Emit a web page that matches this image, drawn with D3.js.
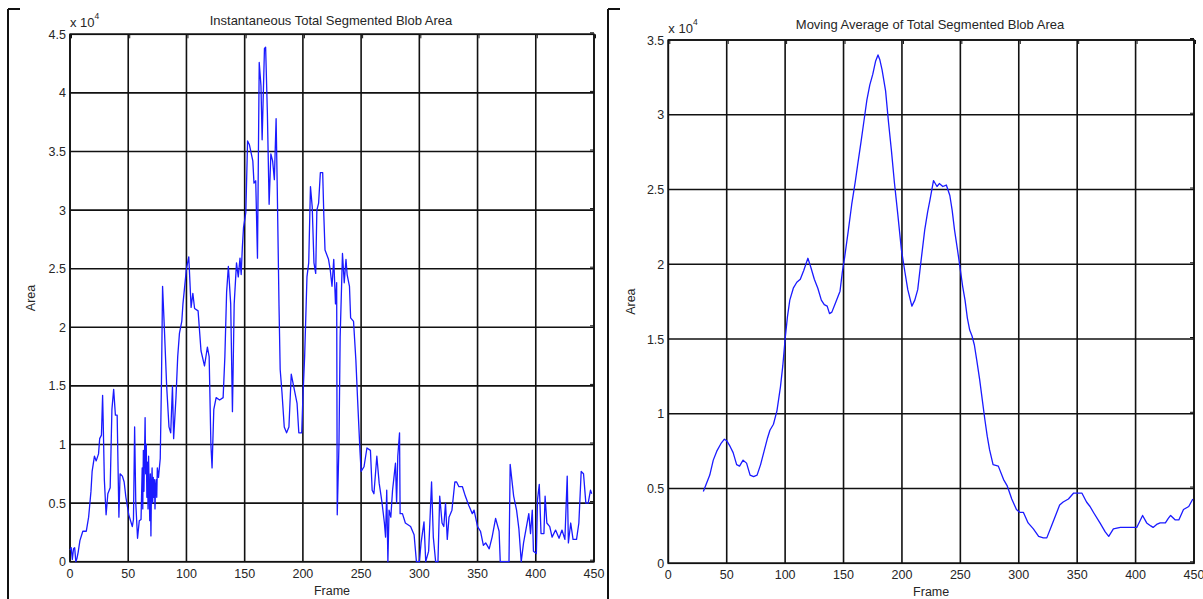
<!DOCTYPE html>
<html>
<head>
<meta charset="utf-8">
<script src="https://cdn.jsdelivr.net/npm/d3@7"></script>
<style>
  body { margin: 0; background: #fff; }
  text { font-family: "Liberation Sans", Arial, sans-serif; fill: #262626; }
</style>
</head>
<body>
<script>
// instantaneous blob area (units of 10^4)
let instFrames = [0, 1, 2, 3, 4, 5, 6, 7, 8.5, 11, 14, 16, 18, 19, 21, 22.5, 24.5, 25.5, 27, 28,
  28.5, 29.5, 31, 32.5, 34.5, 36, 37.5, 39, 40.5, 42, 43, 45, 46.5, 48, 50.5, 53.5, 54.5, 55.5, 56.5, 58,
  59.5, 61, 62, 62.5, 63, 63.5, 64.5, 65, 65.5, 66, 66.5, 67, 67.5, 68, 68.5, 69, 69.5, 70, 70.5, 71,
  71.5, 72, 72.5, 73, 73.5, 74, 74.5, 75, 76, 77.5,
  78.5, 79.5, 81, 83, 85, 86.5, 88, 89, 91, 92.5, 94, 96, 97, 99, 100, 102, 104, 105.5, 107, 110,
  112.5, 115.5, 118, 119.5, 121, 122, 123.5, 125.5, 128.5, 131.5, 133, 134.5, 136, 138, 139.5, 141, 143, 144.5, 146, 147,
  148, 149, 151, 152.5, 154, 157, 158, 159.5, 161, 162.5, 164, 165, 167, 168, 169.5, 171, 172.5, 174, 175.5, 177,
  178, 179.5, 180.5, 182, 184, 186, 188, 190, 192, 195, 196.5, 199, 200, 201.5, 203.5, 205, 206.5, 208, 209.5, 211,
  212, 213.5, 215, 217, 218, 219, 222, 223.5, 225, 226.5, 228, 229, 229.5, 231, 232, 234, 235.5, 237, 238, 240,
  241, 243.5, 245.5, 247, 249, 250, 252.5, 255, 258, 259.5, 261, 263.5, 265.5, 267, 268, 270, 271, 272, 273, 274,
  275.5, 277, 278, 279.5, 280.5, 281.5, 283, 283.5, 285.5, 288, 292.5, 295.5, 297.5, 300, 301.5, 304, 305.5, 308, 310.5, 312,
  314, 316, 317.5, 319.5, 321, 322.5, 324, 325.5, 328, 330.5, 332, 334, 337, 339.5, 342.5, 345.5, 347, 350, 352.5, 355,
  357, 360, 362.5, 365.5, 368.5, 369.5, 377, 378, 381, 383.5, 385.5, 387.5, 389.5, 392, 394, 395.5, 397, 398, 400.5, 401.5,
  403, 404.5, 407, 408, 409.5, 412, 414, 417, 420, 422.5, 425, 427, 428, 430, 432, 435, 437, 439, 441, 443,
  445, 447, 448];
let instArea = [0.10, 0.12, 0.02, 0.11, 0.12, 0.00, 0.03, 0.08, 0.18, 0.26, 0.26, 0.38, 0.60, 0.77, 0.90, 0.86, 0.92, 1.05, 1.08, 1.42,
  1.20, 0.70, 0.40, 0.58, 0.63, 1.30, 1.47, 1.25, 1.25, 0.38, 0.75, 0.73, 0.68, 0.55, 0.40, 0.30, 0.36, 1.15, 0.50, 0.20,
  0.35, 0.36, 0.80, 0.45, 0.95, 0.60, 1.23, 0.75, 1.00, 0.55, 0.85, 0.45, 0.90, 0.60, 0.35, 0.75, 0.22, 0.65, 0.80, 0.50,
  0.72, 0.55, 0.70, 0.45, 0.65, 0.70, 0.55, 0.80, 0.72, 0.88,
  1.50, 2.35, 2.00, 1.50, 1.15, 1.10, 1.50, 1.05, 1.40, 1.75, 1.95, 2.05, 2.20, 2.40, 2.50, 2.60, 2.17, 2.29, 2.16, 2.14,
  1.80, 1.67, 1.83, 1.75, 1.00, 0.80, 1.30, 1.40, 1.38, 1.40, 1.75, 2.30, 2.52, 2.20, 1.28, 2.20, 2.55, 2.43, 2.59, 2.45,
  2.68, 2.85, 2.98, 3.59, 3.56, 3.42, 3.23, 3.25, 2.59, 4.26, 4.06, 3.60, 4.38, 4.39, 3.83, 3.05, 3.48, 3.42, 3.26, 3.78,
  3.18, 2.18, 1.64, 1.45, 1.15, 1.10, 1.15, 1.60, 1.50, 1.35, 1.10, 1.10, 1.40, 1.75, 2.43, 2.55, 3.20, 3.03, 2.55, 2.46,
  3.00, 3.06, 3.32, 3.32, 2.95, 2.66, 2.58, 2.49, 2.35, 2.58, 2.20, 2.38, 0.40, 1.01, 1.92, 2.63, 2.38, 2.58, 2.45, 2.35,
  2.08, 2.05, 1.72, 1.38, 0.95, 0.77, 0.81, 0.97, 0.95, 0.61, 0.58, 0.90, 0.67, 0.57, 0.50, 0.33, 0.21, 0.61, 0.00, 0.44,
  0.38, 0.61, 0.70, 0.84, 0.50, 0.90, 1.10, 0.41, 0.41, 0.33, 0.30, 0.23, 0.00, 0.00, 0.16, 0.34, 0.00, 0.09, 0.68, 0.21,
  0.00, 0.00, 0.56, 0.33, 0.30, 0.50, 0.19, 0.38, 0.44, 0.68, 0.68, 0.64, 0.64, 0.56, 0.48, 0.41, 0.44, 0.30, 0.26, 0.14,
  0.16, 0.11, 0.21, 0.37, 0.26, 0.00, 0.00, 0.83, 0.56, 0.44, 0.28, 0.00, 0.16, 0.30, 0.41, 0.24, 0.44, 0.09, 0.07, 0.53,
  0.66, 0.24, 0.24, 0.56, 0.33, 0.30, 0.21, 0.27, 0.20, 0.27, 0.19, 0.73, 0.16, 0.33, 0.19, 0.19, 0.33, 0.77, 0.75, 0.50,
  0.50, 0.61, 0.58];

// moving average (units of 10^4)
let avgFrames = [30, 33, 35.5, 38.5, 41.5, 45, 48, 50, 53, 55.5, 58.5, 61, 64, 67, 70, 73, 76, 79, 82, 85,
  87, 90, 93, 96, 98, 100, 102, 104, 107, 110, 113, 116, 119.5, 122, 125, 128, 131, 133.5, 136, 138,
  140, 143, 147, 149, 151, 154, 157, 160, 162, 165, 167.5, 170, 172.5, 175, 177.5, 179.5, 181, 183, 186, 188.5,
  191, 193.5, 196.5, 199.5, 202.5, 205, 208.5, 211, 213.5, 216, 219.5, 222, 224, 227, 230, 232, 235, 238, 241, 243,
  245, 247.5, 249.5, 252, 254, 256, 258, 260, 262, 264, 266.5, 269, 271, 273, 275, 278, 282.5, 287, 290, 294,
  298, 301, 304, 308, 312.5, 317, 321, 324, 328, 332.5, 335, 338, 342.5, 347, 350, 354, 358, 361, 364, 369.5,
  374, 377, 381, 387, 393, 398, 401, 406, 409.5, 413, 415, 418, 421, 425.5, 428, 430, 434, 437, 441, 445.5,
  449];
let avgArea = [0.48, 0.54, 0.59, 0.69, 0.75, 0.80, 0.83, 0.82, 0.78, 0.74, 0.66, 0.65, 0.69, 0.67, 0.59, 0.58, 0.59, 0.66, 0.75, 0.84,
  0.89, 0.93, 1.02, 1.18, 1.32, 1.50, 1.65, 1.76, 1.84, 1.88, 1.90, 1.96, 2.04, 1.98, 1.90, 1.84, 1.76, 1.73, 1.72, 1.67,
  1.68, 1.74, 1.82, 1.95, 2.05, 2.22, 2.40, 2.55, 2.66, 2.82, 2.96, 3.10, 3.20, 3.27, 3.36, 3.40, 3.37, 3.30, 3.16, 2.95,
  2.76, 2.55, 2.33, 2.10, 1.95, 1.83, 1.72, 1.76, 1.83, 2.00, 2.23, 2.35, 2.43, 2.56, 2.52, 2.54, 2.52, 2.53, 2.46, 2.36,
  2.23, 2.10, 1.99, 1.85, 1.76, 1.64, 1.56, 1.52, 1.46, 1.36, 1.23, 1.08, 0.96, 0.85, 0.76, 0.66, 0.65, 0.56, 0.52, 0.43,
  0.36, 0.34, 0.34, 0.27, 0.23, 0.18, 0.17, 0.17, 0.25, 0.34, 0.39, 0.41, 0.43, 0.47, 0.47, 0.47, 0.41, 0.38, 0.34, 0.27,
  0.21, 0.18, 0.23, 0.24, 0.24, 0.24, 0.24, 0.32, 0.27, 0.25, 0.24, 0.26, 0.27, 0.27, 0.30, 0.32, 0.29, 0.29, 0.36, 0.38,
  0.43];

// tick values
let frameTicks = [0, 50, 100, 150, 200, 250, 300, 350, 400, 450];
let instTicks = [0, 0.5, 1, 1.5, 2, 2.5, 3, 3.5, 4, 4.5];
let avgTicks = [0, 0.5, 1, 1.5, 2, 2.5, 3, 3.5];

let svg = d3.select("body").append("svg")
  .attr("width", 1203)
  .attr("height", 599);

// page frame lines (figure edges)
[8, 608].forEach(function(x) {
  svg.append("line").attr("x1", x).attr("x2", x).attr("y1", 9).attr("y2", 599)
    .attr("stroke", "#111").attr("stroke-width", 2);
  svg.append("line").attr("x1", x).attr("x2", x + 12).attr("y1", 9).attr("y2", 9)
    .attr("stroke", "#111").attr("stroke-width", 2);
});

function drawPanel(p) {
  let xScale = d3.scaleLinear().domain([0, 450]).range([p.left, p.right]);
  let yScale = d3.scaleLinear().domain([0, d3.max(p.yTicks)]).range([p.bottom, p.top]);
  let g = svg.append("g");

  // grid
  g.selectAll(".vgrid").data(frameTicks).enter().append("line")
    .attr("x1", function(d) { return xScale(d); })
    .attr("x2", function(d) { return xScale(d); })
    .attr("y1", p.top).attr("y2", p.bottom)
    .attr("stroke", "#111").attr("stroke-width", 1.6);
  g.selectAll(".hgrid").data(p.yTicks).enter().append("line")
    .attr("x1", p.left).attr("x2", p.right)
    .attr("y1", function(d) { return yScale(d); })
    .attr("y2", function(d) { return yScale(d); })
    .attr("stroke", "#111").attr("stroke-width", 1.6);

  // small inward ticks on the top and right edges
  g.selectAll(".tTick").data(frameTicks).enter().append("line")
    .attr("x1", function(d) { return xScale(d) + 1.5; })
    .attr("x2", function(d) { return xScale(d) + 1.5; })
    .attr("y1", p.top).attr("y2", p.top + 4)
    .attr("stroke", "#111").attr("stroke-width", 1);
  g.selectAll(".rTick").data(p.yTicks).enter().append("line")
    .attr("x1", p.right - 4).attr("x2", p.right)
    .attr("y1", function(d) { return yScale(d) - 1.5; })
    .attr("y2", function(d) { return yScale(d) - 1.5; })
    .attr("stroke", "#111").attr("stroke-width", 1);

  // axis box
  g.append("rect")
    .attr("x", p.left).attr("y", p.top)
    .attr("width", p.right - p.left).attr("height", p.bottom - p.top)
    .attr("fill", "none").attr("stroke", "#111").attr("stroke-width", 1.6);

  // the data line
  let line = d3.line()
    .x(function(d) { return xScale(d[0]); })
    .y(function(d) { return yScale(d[1]); });
  g.append("path")
    .datum(d3.zip(p.frames, p.values))
    .attr("d", line)
    .attr("fill", "none")
    .attr("stroke", "#1a1aff")
    .attr("stroke-width", 1.3)
    .attr("stroke-linejoin", "round");

  // tick labels
  let fmt = d3.format("~g");
  g.selectAll(".xlab").data(frameTicks).enter().append("text")
    .attr("x", function(d) { return xScale(d); })
    .attr("y", p.bottom + 16)
    .attr("text-anchor", "middle")
    .style("font-size", p.fs + "px")
    .text(fmt);
  g.selectAll(".ylab").data(p.yTicks).enter().append("text")
    .attr("x", p.left - 4)
    .attr("y", function(d) { return yScale(d) + 4.5; })
    .attr("text-anchor", "end")
    .style("font-size", p.fs + "px")
    .text(fmt);

  // exponent label
  let ex = g.append("text").attr("x", p.left).attr("y", p.top - 7).style("font-size", (p.fs + 0.5) + "px");
  ex.append("tspan").text("x 10");
  ex.append("tspan").attr("dy", -8).style("font-size", (p.fs - 4) + "px").text("4");

  // title and axis labels
  g.append("text")
    .attr("x", p.titleX).attr("y", p.titleY)
    .attr("text-anchor", "middle")
    .style("font-size", p.tfs + "px")
    .text(p.title);
  g.append("text")
    .attr("x", (p.left + p.right) / 2).attr("y", p.bottom + 33)
    .attr("text-anchor", "middle")
    .style("font-size", p.fs + "px")
    .text("Frame");
  g.append("text")
    .attr("transform", "translate(" + p.areaX + "," + (p.top + p.bottom) / 2 + ") rotate(-90)")
    .attr("text-anchor", "middle")
    .style("font-size", p.fs + "px")
    .text("Area");
}

drawPanel({left: 70, right: 594, top: 34.3, bottom: 561.7, yTicks: instTicks,
  frames: instFrames, values: instArea, fs: 12.5, tfs: 13,
  title: "Instantaneous Total Segmented Blob Area", titleX: 331, titleY: 25, areaX: 35});

drawPanel({left: 668.3, right: 1194, top: 40, bottom: 563.3, yTicks: avgTicks,
  frames: avgFrames, values: avgArea, fs: 12.5, tfs: 13,
  title: "Moving Average of Total Segmented Blob Area", titleX: 930, titleY: 29, areaX: 635});
</script>
</body>
</html>
